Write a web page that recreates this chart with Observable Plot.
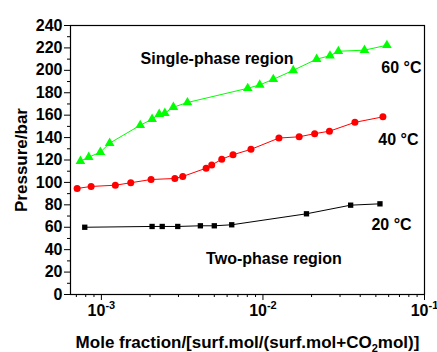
<!DOCTYPE html>
<html><head><meta charset="utf-8">
<script src="https://cdn.jsdelivr.net/npm/d3@7"></script>
<script src="https://cdn.jsdelivr.net/npm/@observablehq/plot@0.6"></script>
<style>body{margin:0;background:#fff}</style>
</head><body><div id="chart"></div>
<script>
// 60 °C (green triangles)
const x60 = [7.42e-4, 8.35e-4, 9.86e-4, 1.125e-3, 1.74e-3, 2.06e-3, 2.28e-3, 2.47e-3, 2.79e-3, 3.41e-3, 8.05e-3, 9.55e-3, 1.159e-2, 1.54e-2, 2.15e-2, 2.60e-2, 2.93e-2, 4.25e-2, 5.85e-2];
const p60 = [119, 122.5, 127, 135, 151, 156.4, 160.9, 161.8, 167.1, 171.3, 184, 187, 192, 200, 210, 213, 217, 218, 222.4];
// 40 °C (red circles)
const x40 = [7.08e-4, 8.64e-4, 1.22e-3, 1.52e-3, 2.03e-3, 2.85e-3, 3.19e-3, 4.45e-3, 4.82e-3, 5.56e-3, 6.53e-3, 8.43e-3, 1.256e-2, 1.676e-2, 2.09e-2, 2.58e-2, 3.71e-2, 5.53e-2];
const p40 = [94.6, 96.4, 97.5, 99.7, 102.6, 103.5, 105.3, 112.7, 115.5, 120.7, 124.7, 129.5, 139.6, 140.7, 143.5, 145.7, 153.6, 158.5];
// 20 °C (black squares)
const x20 = [7.89e-4, 2.06e-3, 2.38e-3, 2.97e-3, 4.10e-3, 5.00e-3, 6.41e-3, 1.86e-2, 3.49e-2, 5.30e-2];
const p20 = [60, 60.7, 60.7, 60.7, 61.3, 61.3, 62.2, 72, 79.7, 80.9];

const yTicks = d3.range(0, 241, 20);
const yMinor = d3.range(10, 240, 20);
const xMajor = [1e-3, 1e-2, 1e-1];
const xMinor = [7e-4, 8e-4, 9e-4, 2e-3, 3e-3, 4e-3, 5e-3, 6e-3, 7e-3, 8e-3, 9e-3, 2e-2, 3e-2, 4e-2, 5e-2, 6e-2, 7e-2, 8e-2, 9e-2];

const labelTexts = ["Single-phase region", "Two-phase region", "60 °C", "40 °C", "20 °C"];
const labelX = [5.2e-3, 1.17e-2, 7.2e-2, 6.9e-2, 6.25e-2];
const labelY = [210.5, 32, 202.5, 138, 62.5];

const mk = (xs, ys) => xs.map((x, i) => ({x, p: ys[i]}));
const d60 = mk(x60, p60), d40 = mk(x40, p40), d20 = mk(x20, p20);
const labels = labelTexts.map((t, i) => ({t, x: labelX[i], y: labelY[i]}));

const svg = Plot.plot({
  width: 437, height: 352,
  marginLeft: 70, marginRight: 13, marginTop: 25, marginBottom: 58,
  style: {fontFamily: "'Liberation Sans', Arial, sans-serif", fontSize: "16px", fontWeight: "bold", color: "#000", background: "#fff"},
  x: {type: "log", domain: [6.44e-4, 0.1]},
  y: {domain: [0, 240]},
  marks: [
    Plot.axisY({ticks: yTicks, tickSize: 6, tickPadding: 2, label: "Pressure/bar", labelAnchor: "center", labelArrow: "none", labelOffset: 56}),
    Plot.axisY({ticks: yMinor, tickSize: 3, tickFormat: () => "", label: null}),
    Plot.axisX({ticks: xMajor, tickSize: 6, tickPadding: 4, tickFormat: d => "10^" + Math.round(Math.log10(d)), label: "Mole fraction/[surf.mol/(surf.mol+CO2mol)]", labelAnchor: "center", labelArrow: "none", labelOffset: 53}),
    Plot.axisX({ticks: xMinor, tickSize: 3, tickFormat: () => "", label: null}),
    Plot.frame({stroke: "#000", strokeWidth: 1.2}),
    Plot.line(d60, {x: "x", y: "p", stroke: "#00ff00", strokeWidth: 1}),
    Plot.line(d40, {x: "x", y: "p", stroke: "#ff0000", strokeWidth: 1}),
    Plot.line(d20, {x: "x", y: "p", stroke: "#000", strokeWidth: 1}),
    Plot.dot(d60, {x: "x", y: "p", symbol: "triangle", fill: "#00ff00", r: 3.6}),
    Plot.dot(d40, {x: "x", y: "p", symbol: "circle", fill: "#ff0000", r: 3.5}),
    Plot.dot(d20, {x: "x", y: "p", symbol: "square", fill: "#000", r: 3}),
    Plot.text(labels, {x: "x", y: "y", text: "t", fontSize: 16, fontWeight: "bold", fill: "#000"})
  ]
});
document.getElementById("chart").appendChild(svg);

const ns = "http://www.w3.org/2000/svg";
// superscripts on x tick labels
svg.querySelectorAll('[aria-label="x-axis tick label"] text').forEach(el => {
  const m = el.textContent.match(/^10\^(.*)$/);
  if (!m) return;
  el.textContent = "10";
  const ts = document.createElementNS(ns, "tspan");
  ts.setAttribute("dy", "-7");
  ts.setAttribute("font-size", "11");
  ts.textContent = m[1];
  el.appendChild(ts);
});
// y label size
svg.querySelectorAll('[aria-label="y-axis label"] text').forEach(el => el.setAttribute("font-size", "17"));
// subscript in x label
svg.querySelectorAll('[aria-label="x-axis label"] text').forEach(el => {
  el.setAttribute("font-size", "17");
  el.textContent = "Mole fraction/[surf.mol/(surf.mol+CO";
  const s = document.createElementNS(ns, "tspan");
  s.setAttribute("dy", "4"); s.setAttribute("font-size", "11"); s.textContent = "2";
  const r = document.createElementNS(ns, "tspan");
  r.setAttribute("dy", "-4"); r.textContent = "mol)]";
  el.appendChild(s); el.appendChild(r);
});
</script>
</body></html>
